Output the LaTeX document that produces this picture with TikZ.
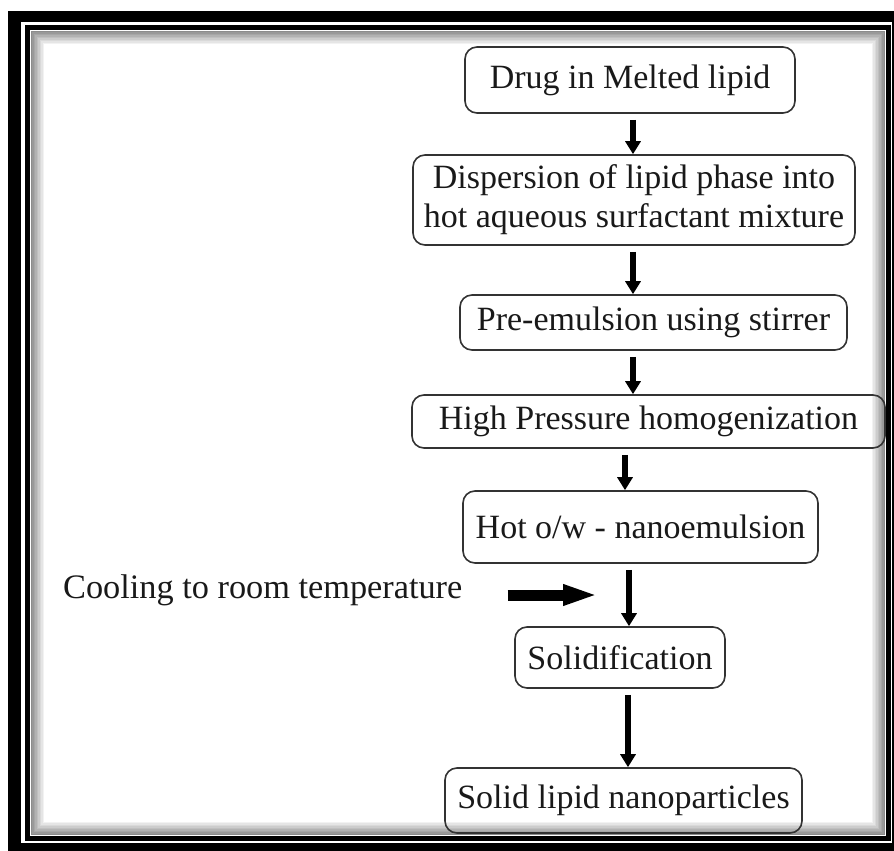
\documentclass[tikz,border=0pt]{standalone}
\usepackage{fontspec}
\setmainfont{Liberation Serif}
\usetikzlibrary{positioning, arrows.meta}

\begin{document}
\begin{tikzpicture}[
    x=1pt, y=-1pt,
    stepbox/.style={draw=black!80, line width=1.6pt, rounded corners=12pt, inner sep=0pt,
        align=center, text=black!90, font=\fontsize{34}{39}\selectfont},
    flow/.style={-{Triangle[width=15pt,length=13pt]}, line width=6.5pt, black},
    label/.style={text=black!90, font=\fontsize{34.3}{39}\selectfont, inner sep=0pt}
]
    \useasboundingbox (0,0) rectangle (894,851);

    % Frame
    \fill[black] (8,11) rectangle (894,851);
    \fill[white] (21,22) rectangle (892,843);
    \foreach \d in {1,...,10} {
        \pgfmathsetmacro\sh{int(50-5*\d)}
        \draw[line width=1.6pt, black!\sh] (30+1.5*\d,30+1.5*\d) rectangle (886-1.5*\d,836-1.5*\d);
    }
    \draw[line width=5pt, black] (27.5,27.5) rectangle (888.5,838.5);

    % Process steps
    \node[stepbox, minimum width=330pt, minimum height=66pt] (melt) at (630,80) {Drug in Melted lipid};
    \node[stepbox, minimum width=442pt, minimum height=90pt] (disp) at (634,200) {Dispersion of lipid phase into\\hot aqueous surfactant mixture};
    \node[stepbox, minimum width=387pt, minimum height=55pt] (preem) at (653.5,322.5) {Pre-emulsion using stirrer};
    \node[stepbox, minimum width=473pt, minimum height=53pt] (hph) at (648.5,421.5) {High Pressure homogenization};
    \node[stepbox, minimum width=355pt, minimum height=72pt] (nano) at (640.5,527) {Hot o/w - nanoemulsion};
    \node[stepbox, minimum width=210pt, minimum height=61pt] (solid) at (620,657.5) {Solidification};
    \node[stepbox, minimum width=357pt, minimum height=65pt] (sln) at (623.5,800.5) {Solid lipid nanoparticles};

    % Cooling step
    \node[label, anchor=west] (cool) at (63,590) {Cooling to room temperature};

    % Arrows between steps
    \foreach \a/\b/\x in {melt/disp/633, disp/preem/633, preem/hph/633, hph/nano/625, nano/solid/629, solid/sln/628} {
        \draw[flow, shorten <=6pt] (\a.south -| \x,0) -- (\b.north -| \x,0);
    }

    \coordinate (cend) at (607,595);
    \draw[-{Triangle[width=17pt,length=44pt]}, line width=11pt, shorten <=45pt] (cool.east |- cend) -- (cend);

\end{tikzpicture}
\end{document}
